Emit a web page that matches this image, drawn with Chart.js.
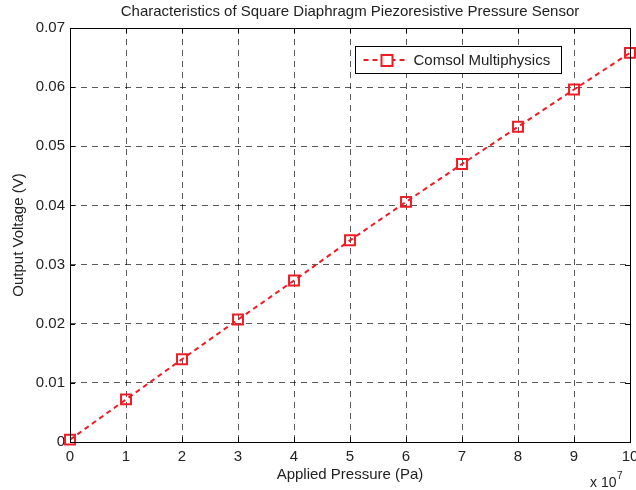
<!DOCTYPE html>
<html>
<head>
<meta charset="utf-8">
<script src="https://cdn.jsdelivr.net/npm/chart.js@4/dist/chart.umd.min.js"></script>
<style>
  html, body { margin: 0; padding: 0; background: #fff; }
  #wrap { width: 636px; height: 490px; }
</style>
</head>
<body>
<div id="wrap"><canvas id="c" width="636" height="490"></canvas></div>
<script>
// Applied pressure, in units of 1e7 Pa
const pressure = [0, 1, 2, 3, 4, 5, 6, 7, 8, 9, 10];
// Output voltage (V) from the Comsol Multiphysics model
const voltage = [0.0004, 0.0072, 0.0140, 0.0207, 0.0273, 0.0341, 0.0406, 0.0470, 0.0533, 0.0596, 0.0658];
const xTicks = [0, 1, 2, 3, 4, 5, 6, 7, 8, 9, 10];
const yTicks = [0, 0.01, 0.02, 0.03, 0.04, 0.05, 0.06, 0.07];
const seriesName = 'Comsol Multiphysics';
const titleText = 'Characteristics of Square Diaphragm Piezoresistive Pressure Sensor';
const xTitle = 'Applied Pressure (Pa)';
const yTitle = 'Output Voltage (V)';
const xExponent = '7';

const RED = '#ee1c25';
const INK = '#222';
const FONT = "'Liberation Sans', Arial, Helvetica, sans-serif";

// Title over the plot, frame, inward tick marks, legend box and the axis multiplier
const decorations = {
  id: 'decorations',
  afterDraw(chart) {
    const {ctx, chartArea: a, scales: {x, y}} = chart;
    ctx.save();

    // title centred over the plot area
    ctx.fillStyle = INK;
    ctx.font = '15px ' + FONT;
    ctx.textAlign = 'center';
    ctx.textBaseline = 'middle';
    ctx.fillText(titleText, (a.left + a.right) / 2, 12);

    ctx.strokeStyle = '#000';
    ctx.lineWidth = 1;
    ctx.setLineDash([]);
    // inward tick marks
    ctx.beginPath();
    xTicks.forEach(v => {
      const px = Math.round(x.getPixelForValue(v)) + 0.5;
      ctx.moveTo(px, a.bottom); ctx.lineTo(px, a.bottom - 5);
      ctx.moveTo(px, a.top); ctx.lineTo(px, a.top + 5);
    });
    yTicks.forEach(v => {
      const py = Math.round(y.getPixelForValue(v)) + 0.5;
      ctx.moveTo(a.left, py); ctx.lineTo(a.left + 5, py);
      ctx.moveTo(a.right, py); ctx.lineTo(a.right - 5, py);
    });
    ctx.stroke();
    // plot frame
    ctx.strokeRect(Math.round(a.left) + 0.5, Math.round(a.top) + 0.5,
                   Math.round(a.right - a.left), Math.round(a.bottom - a.top));

    // legend
    const lx = 355.5, ly = 46.5, lw = 206, lh = 27;
    ctx.fillStyle = '#fff';
    ctx.fillRect(lx, ly, lw, lh);
    ctx.strokeStyle = '#000';
    ctx.strokeRect(lx, ly, lw, lh);
    const my = ly + lh / 2;
    ctx.strokeStyle = RED;
    ctx.lineWidth = 2;
    ctx.setLineDash([5, 4]);
    ctx.beginPath();
    ctx.moveTo(lx + 8, my); ctx.lineTo(lx + 53, my);
    ctx.stroke();
    ctx.setLineDash([]);
    ctx.fillStyle = '#fff';
    ctx.fillRect(lx + 26, my - 5, 11, 11);
    ctx.strokeRect(lx + 26, my - 5, 11, 11);
    ctx.fillStyle = INK;
    ctx.font = '15px ' + FONT;
    ctx.textBaseline = 'middle';
    ctx.textAlign = 'left';
    ctx.fillText(chart.data.datasets[0].label, lx + 58, my + 1);

    // x axis multiplier
    ctx.font = '14px ' + FONT;
    ctx.textBaseline = 'alphabetic';
    ctx.fillText('x 10', 590, 487);
    ctx.font = '10px ' + FONT;
    ctx.fillText(xExponent, 617, 479);
    ctx.restore();
  }
};

new Chart(document.getElementById('c'), {
  type: 'line',
  data: {
    datasets: [{
      label: seriesName,
      data: pressure.map((p, i) => ({x: p, y: voltage[i]})),
      borderColor: RED,
      backgroundColor: 'rgba(255,255,255,0)',
      borderWidth: 2,
      borderDash: [5, 4],
      pointStyle: 'rect',
      pointRadius: 7,
      pointBorderWidth: 2,
      pointBorderColor: RED,
      pointBackgroundColor: 'rgba(255,255,255,0)',
      tension: 0,
      clip: false
    }]
  },
  options: {
    responsive: false,
    animation: false,
    layout: { autoPadding: false, padding: { left: 0, right: 6, top: 28, bottom: 0 } },
    plugins: {
      legend: { display: false },
      tooltip: { enabled: false },
      title: { display: false }
    },
    scales: {
      x: {
        type: 'linear',
        min: 0, max: 10,
        afterBuildTicks: s => { s.ticks = xTicks.map(v => ({value: v})); },
        afterFit: s => { s.height = 48; s.paddingLeft = 0; s.paddingRight = 0; },
        ticks: {
          color: INK,
          padding: 6,
          font: { family: FONT, size: 15 },
          maxRotation: 0,
          autoSkip: false
        },
        grid: { color: 'rgba(0,0,0,0.65)', lineWidth: 1, drawTicks: false },
        border: { display: false, dash: [6, 5] },
        title: {
          display: true,
          text: xTitle,
          color: INK,
          font: { family: FONT, size: 15, lineHeight: 1.2 },
          padding: { top: 0, bottom: 6 }
        }
      },
      y: {
        type: 'linear',
        min: 0, max: 0.07,
        afterBuildTicks: s => { s.ticks = yTicks.map(v => ({value: v})); },
        afterFit: s => { s.width = 70; s.paddingTop = 0; s.paddingBottom = 0; },
        ticks: {
          color: INK,
          padding: 5,
          font: { family: FONT, size: 15 },
          callback: v => (v === 0 ? '0' : v.toFixed(2))
        },
        grid: { color: 'rgba(0,0,0,0.65)', lineWidth: 1, drawTicks: false },
        border: { display: false, dash: [6, 5] },
        title: {
          display: true,
          text: yTitle,
          color: INK,
          font: { family: FONT, size: 15, lineHeight: 1.2 },
          padding: { top: 10, bottom: 0 }
        }
      }
    }
  },
  plugins: [decorations]
});
</script>
</body>
</html>
